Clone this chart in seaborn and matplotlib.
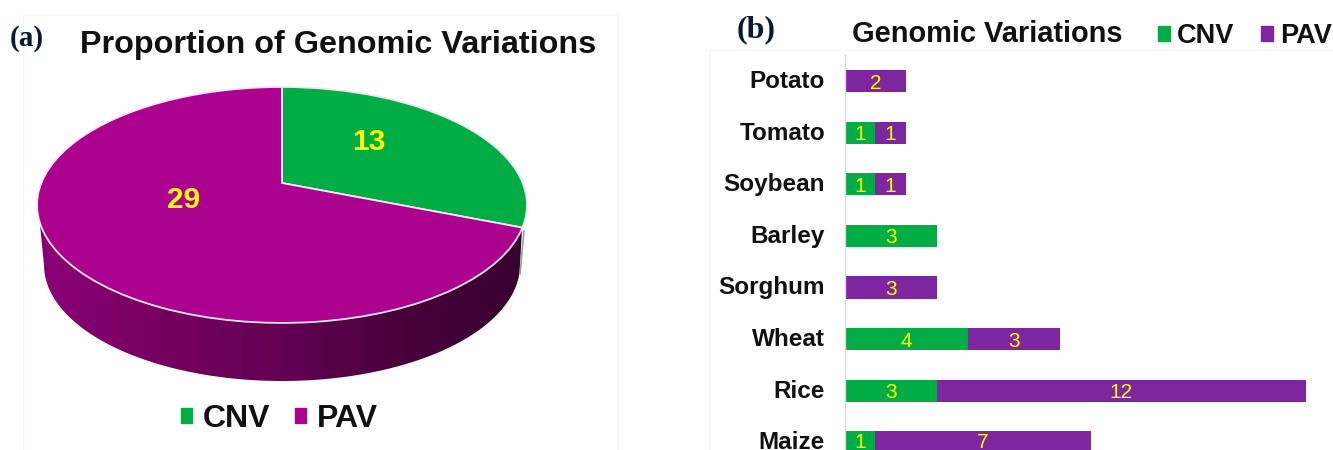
import numpy as np
import pandas as pd
import matplotlib.pyplot as plt
import matplotlib.transforms as mtransforms
from matplotlib.colors import LinearSegmentedColormap
from matplotlib.patches import Patch, Polygon, Rectangle
import seaborn as sns

# ===========================================================
# Data
# ===========================================================

pie_labels = ["CNV", "PAV"]
pie_values = [13, 29]

crops = ["Potato", "Tomato", "Soybean", "Barley", "Sorghum", "Wheat", "Rice", "Maize"]
cnv_counts = [0, 1, 1, 3, 0, 4, 3, 1]
pav_counts = [2, 1, 1, 0, 3, 3, 12, 7]

GREEN = "#00AD45"
PINK = "#AC008F"
PURPLE = "#7E26A0"
YELLOW = "#FFFF00"

sns.set_theme(style="white")
plt.rcParams["font.family"] = ["Liberation Sans", "DejaVu Sans"]

fig = plt.figure(figsize=(13.33, 4.5), dpi=100)

# Panel (a) uses pixel coordinates of the figure
ax_a = fig.add_axes([0, 0, 1, 1])


# ===========================================================
# Tilted pie: the top face is a unit circle seen in perspective
# ===========================================================

class TiltedDisc(mtransforms.Transform):
    input_dims = 2
    output_dims = 2
    has_inverse = False

    def transform_non_affine(self, values):
        values = np.asarray(values)
        w = 1 + 0.186 * values[:, 1]
        return np.column_stack([
            282 + 240.7 * values[:, 0] / w,
            183 - 113.9 * values[:, 1] / w,
        ])


wedges, _ = ax_a.pie(
    pie_values,
    colors=[GREEN, PINK],
    startangle=90,
    counterclock=False,
    wedgeprops={"edgecolor": "#F3E6F1", "linewidth": 1.3, "zorder": 3},
)
for wedge in wedges:
    wedge.set_transform(TiltedDisc() + ax_a.transData)

ax_a.set_aspect("auto")
ax_a.axis("off")

# side wall, dark gradient clipped to the lower rim
t = np.linspace(np.pi, 2 * np.pi, 80)
wall_x = 282 + 238 * np.cos(t)
wall_y = 265 - 116 * np.sin(t)
wall = Polygon(
    np.vstack([[[38, 205]], np.column_stack([wall_x, wall_y]), [[522, 229]]]),
    closed=True, facecolor="none", edgecolor="none", transform=ax_a.transData,
)
ax_a.add_patch(wall)
wall_cmap = LinearSegmentedColormap.from_list(
    "wall", ["#8A0075", "#75005F", "#620052", "#4A003C", "#38002E"]
)
gradient = ax_a.imshow(
    np.linspace(0, 1, 24).reshape(1, -1),
    cmap=wall_cmap, extent=(38, 527, 385, 200), aspect="auto",
    interpolation="nearest", zorder=1,
)
gradient.set_clip_path(wall)
ax_a.set_xlim(0, 1333)
ax_a.set_ylim(450, 0)

# thin sliver of the green slice on the right
ax_a.plot([524, 520], [231, 274], color="#8FA59B", lw=1.2, zorder=2)

# value labels
ax_a.text(369, 142, str(pie_values[0]), color=YELLOW, fontsize=21.5, fontweight="bold",
          ha="center", va="center", zorder=5)
ax_a.text(184, 200, str(pie_values[1]), color=YELLOW, fontsize=21.5, fontweight="bold",
          ha="center", va="center", zorder=5)

# titles and panel letters
ax_a.text(338.5, 44.5, "Proportion of Genomic Variations", fontsize=23.3, fontweight="bold",
          color="#111111", ha="center", va="center")
ax_a.text(10, 39, "(a)", family="Liberation Serif", fontsize=21, fontweight="bold",
          color="#0B1A33", ha="left", va="center")
ax_a.text(737, 30, "(b)", family="Liberation Serif", fontsize=23, fontweight="bold",
          color="#0B1A33", ha="left", va="center")
ax_a.text(987.5, 34, "Genomic Variations", fontsize=20.9, fontweight="bold",
          color="#111111", ha="center", va="center")

# faint panel borders
ax_a.add_patch(Rectangle((23, 15), 595, 440, fill=False, edgecolor="#F6F6F6", lw=1))
ax_a.add_patch(Rectangle((709, 50), 640, 410, fill=False, edgecolor="#F6F6F6", lw=1))

# pie legend
legend_a = ax_a.legend(
    handles=[Patch(color=GREEN, label=pie_labels[0]), Patch(color=PINK, label=pie_labels[1])],
    loc="center", bbox_to_anchor=(279.5, 419), bbox_transform=ax_a.transData,
    ncol=2, frameon=False, handlelength=0.33, handleheight=0.35, handletextpad=0.35,
    columnspacing=0.78, borderpad=0, prop={"size": 23, "weight": "bold"},
    labelcolor="#111111",
)
ax_a.add_artist(legend_a)


# ===========================================================
# Panel (b): stacked horizontal bars
# ===========================================================

ax_b = fig.add_axes([844.5 / 1333, 0, (1333 - 844.5) / 1333, 395 / 450])
ax_b.patch.set_alpha(0)

df = pd.DataFrame({"crop": crops, "CNV": cnv_counts, "PAV": pav_counts})

sns.barplot(
    data=df, x="CNV", y="crop", order=crops, color=GREEN, saturation=1,
    width=0.43, errorbar=None, orient="y", linewidth=0, ax=ax_b,
)
sns.barplot(
    data=df, x="PAV", y="crop", order=crops, color=PURPLE, saturation=1,
    width=0.43, errorbar=None, orient="y", linewidth=0, left=cnv_counts, ax=ax_b,
)

for container, counts in zip(ax_b.containers, [cnv_counts, pav_counts]):
    value_labels = ax_b.bar_label(
        container,
        labels=[str(c) if c > 0 else "" for c in counts],
        label_type="center", color=YELLOW, fontsize=15,
    )
    for value_label in value_labels:
        value_label.xyann = (0, -1.5)

ax_b.set_xlim(0, 488.5 / 30.77)
ax_b.set_ylim(7.15, -0.504)
ax_b.set_xlabel("")
ax_b.set_ylabel("")
ax_b.set_xticks([])
ax_b.tick_params(axis="y", length=0, pad=14, labelsize=17.5, labelcolor="#111111")

# labels sit a little higher than the bar centres
nudge_up = mtransforms.ScaledTranslation(0, 1.5 / 72, fig.dpi_scale_trans)
for label in ax_b.get_yticklabels():
    label.set_fontweight("bold")
    label.set_transform(label.get_transform() + nudge_up)

sns.despine(ax=ax_b, top=True, right=True, bottom=True)
ax_b.spines["left"].set_color("#D9D9D9")
ax_b.spines["left"].set_linewidth(1)

# legend of panel (b), placed next to the title
ax_a.legend(
    handles=[Patch(color=GREEN, label="CNV"), Patch(color=PURPLE, label="PAV")],
    loc="center", bbox_to_anchor=(1245, 36), bbox_transform=ax_a.transData,
    ncol=2, frameon=False, handlelength=0.44, handleheight=0.44, handletextpad=0.26,
    columnspacing=0.96, borderpad=0, prop={"size": 19.5, "weight": "bold"},
    labelcolor="#111111",
)

fig.savefig("out.png", dpi=100)
